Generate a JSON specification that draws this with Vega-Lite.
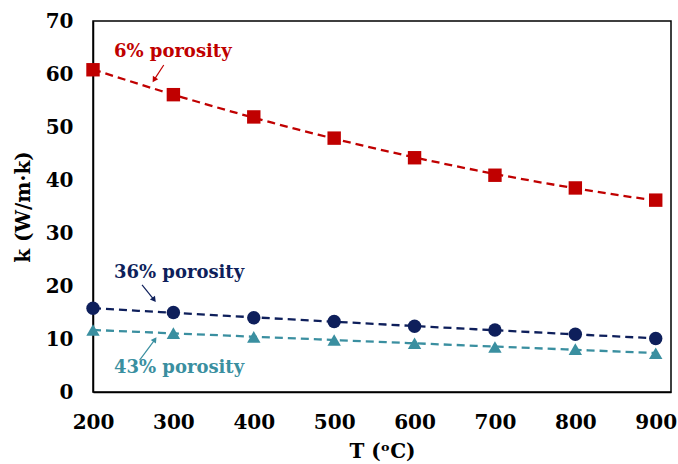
{
  "$schema": "https://vega.github.io/schema/vega-lite/v6.json",
  "width": 578,
  "height": 371,
  "autosize": "none",
  "padding": {"left": 93, "top": 21, "right": 7, "bottom": 72},
  "background": "white",
  "config": {
    "view": {"stroke": "black", "strokeWidth": 1.5},
    "axis": {
      "labelFont": "DejaVu Serif", "labelFontWeight": "bold", "labelFontSize": 20, "labelColor": "black",
      "titleFont": "DejaVu Serif", "titleFontWeight": "bold", "titleFontSize": 20, "titleColor": "black",
      "domainColor": "black", "domainWidth": 1.5, "ticks": false,
      "grid": false, "labelFlush": false
    }
  },
  "datasets": {
    "pts": [
      {"T": 200, "k": 60.8, "series": "6% porosity"},
      {"T": 300, "k": 56.1, "series": "6% porosity"},
      {"T": 400, "k": 51.9, "series": "6% porosity"},
      {"T": 500, "k": 47.9, "series": "6% porosity"},
      {"T": 600, "k": 44.2, "series": "6% porosity"},
      {"T": 700, "k": 40.9, "series": "6% porosity"},
      {"T": 800, "k": 38.5, "series": "6% porosity"},
      {"T": 900, "k": 36.2, "series": "6% porosity"},
      {"T": 200, "k": 15.8, "series": "36% porosity"},
      {"T": 300, "k": 15.0, "series": "36% porosity"},
      {"T": 400, "k": 14.0, "series": "36% porosity"},
      {"T": 500, "k": 13.3, "series": "36% porosity"},
      {"T": 600, "k": 12.4, "series": "36% porosity"},
      {"T": 700, "k": 11.7, "series": "36% porosity"},
      {"T": 800, "k": 10.9, "series": "36% porosity"},
      {"T": 900, "k": 10.1, "series": "36% porosity"},
      {"T": 200, "k": 11.7, "series": "43% porosity"},
      {"T": 300, "k": 11.1, "series": "43% porosity"},
      {"T": 400, "k": 10.4, "series": "43% porosity"},
      {"T": 500, "k": 9.8, "series": "43% porosity"},
      {"T": 600, "k": 9.2, "series": "43% porosity"},
      {"T": 700, "k": 8.5, "series": "43% porosity"},
      {"T": 800, "k": 8.1, "series": "43% porosity"},
      {"T": 900, "k": 7.3, "series": "43% porosity"}
    ],
    "labels": [
      {"text": "6% porosity", "T": 226, "k": 64.2, "series": "6% porosity"},
      {"text": "36% porosity", "T": 226, "k": 22.4, "series": "36% porosity"},
      {"text": "43% porosity", "T": 226, "k": 4.5, "series": "43% porosity"}
    ],
    "arrows": [
      {"series": "6% porosity", "T": 288, "k": 61.7, "T2": 276, "k2": 58.9},
      {"series": "36% porosity", "T": 261, "k": 20.2, "T2": 276, "k2": 17.4},
      {"series": "43% porosity", "T": 258, "k": 6.0, "T2": 277, "k2": 9.9}
    ],
    "xticks": [{"T": 300}, {"T": 400}, {"T": 500}, {"T": 600}, {"T": 700}, {"T": 800}, {"T": 900}],
    "yticks": [{"k": 10}, {"k": 20}, {"k": 30}, {"k": 40}, {"k": 50}, {"k": 60}]
  },
  "encoding": {
    "x": {"field": "T", "type": "quantitative",
      "scale": {"domain": [200, 919], "nice": false, "zero": false},
      "axis": {"values": [200, 300, 400, 500, 600, 700, 800, 900], "title": "T (ᵒC)", "labelPadding": 20, "titlePadding": 9}},
    "y": {"field": "k", "type": "quantitative",
      "scale": {"domain": [0, 70], "nice": false},
      "axis": {"values": [0, 10, 20, 30, 40, 50, 60, 70], "title": "k (W/m·k)", "labelPadding": 20, "titlePadding": 12}},
    "color": {"field": "series", "type": "nominal", "legend": null,
      "scale": {"domain": ["6% porosity", "36% porosity", "43% porosity"], "range": ["#C00000", "#0E1F5B", "#3A8FA0"]}}
  },
  "layer": [
    {
      "data": {"name": "xticks"},
      "mark": {"type": "rule", "strokeWidth": 1.5},
      "encoding": {"y": {"datum": 0}, "y2": {"datum": 1.35}, "color": {"value": "black"}}
    },
    {
      "data": {"name": "yticks"},
      "mark": {"type": "rule", "strokeWidth": 1.5},
      "encoding": {"x": {"datum": 200}, "x2": {"datum": 209}, "color": {"value": "black"}}
    },
    {
      "data": {"name": "pts"},
      "transform": [{"regression": "k", "on": "T", "groupby": ["series"], "method": "poly", "order": 2, "extent": [200, 900]}],
      "mark": {"type": "line", "strokeDash": [8, 5], "strokeWidth": 2.3}
    },
    {
      "data": {"name": "pts"},
      "mark": {"type": "point", "filled": true, "opacity": 1, "size": 180},
      "encoding": {
        "shape": {"field": "series", "type": "nominal", "legend": null,
          "scale": {"domain": ["6% porosity", "36% porosity", "43% porosity"], "range": ["square", "circle", "triangle-up"]}}
      }
    },
    {
      "data": {"name": "labels"},
      "mark": {"type": "text", "font": "DejaVu Serif", "fontWeight": "bold", "fontSize": 18, "align": "left", "baseline": "middle"},
      "encoding": {"text": {"field": "text"}}
    },
    {
      "data": {"name": "arrows"},
      "mark": {"type": "rule", "strokeWidth": 1.2},
      "encoding": {"x2": {"field": "T2"}, "y2": {"field": "k2"}}
    },
    {
      "data": {"name": "arrows"},
      "transform": [{"filter": "datum.series == '6% porosity'"}],
      "mark": {"type": "point", "shape": "triangle-up", "filled": true, "opacity": 1, "size": 40, "angle": 212},
      "encoding": {"x": {"field": "T2", "type": "quantitative"}, "y": {"field": "k2", "type": "quantitative"}}
    },
    {
      "data": {"name": "arrows"},
      "transform": [{"filter": "datum.series == '36% porosity'"}],
      "mark": {"type": "point", "shape": "triangle-up", "filled": true, "opacity": 1, "size": 40, "angle": 143},
      "encoding": {"x": {"field": "T2", "type": "quantitative"}, "y": {"field": "k2", "type": "quantitative"}}
    },
    {
      "data": {"name": "arrows"},
      "transform": [{"filter": "datum.series == '43% porosity'"}],
      "mark": {"type": "point", "shape": "triangle-up", "filled": true, "opacity": 1, "size": 40, "angle": 35},
      "encoding": {"x": {"field": "T2", "type": "quantitative"}, "y": {"field": "k2", "type": "quantitative"}}
    }
  ]
}
